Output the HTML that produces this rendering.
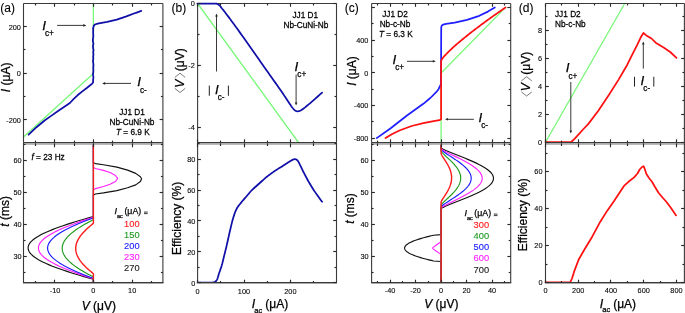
<!DOCTYPE html>
<html><head><meta charset="utf-8"><style>
html,body{margin:0;padding:0;background:#fff;width:685px;height:313px;overflow:hidden}
svg{display:block;will-change:transform}
text{font-family:"Liberation Sans", sans-serif;stroke-width:0.25px}
</style></head><body>
<svg width="685" height="313" viewBox="0 0 685 313" font-family='"Liberation Sans", sans-serif'>
<rect width="685" height="313" fill="#fff"/>
<polyline points="93.4,3.5 93.4,73.6 23.5,137" fill="none" stroke="#78f878" stroke-width="1.3" stroke-linejoin="round" stroke-linecap="round" />
<polyline points="141.3,10.9 135.9,12.8 126.4,16.4 116.8,19.6 107.2,21.9 97.6,23.6 95,24.5 93.8,25.6 93.3,28 93.02,28 93.23,30.2 93.11,32.4 93.27,34.6 93.29,36.8 92.9,39 92.86,41.2 93.44,43.4 93.03,45.6 93.01,47.8 93.55,50 93.18,52.2 93.44,54.4 93.18,56.6 93.3,58.8 92.96,61 93.29,63.2 93.46,65.4 93.22,67.6 93.37,69.8 93.32,72 92.89,74.2 93.38,76.4 93.26,78.6 93.06,80.8 93.2,82.2 92.2,83.6 90.2,85.2 87.1,87.7 82,91.6 77.5,95.3 73.5,99.2 69.9,103 64,106.9 58.4,110.7 51.5,115.6 44.9,120.3 36.5,127.2 28.6,134.7" fill="none" stroke="#1010a8" stroke-width="1.75" stroke-linejoin="round" stroke-linecap="round" />
<polyline points="93.4,144 93.4,162.7 95.4,163.6 103.4,164.7 116.9,167.1 127.6,170.1 135.7,173.4 140.4,176.8 141.6,178.8 140.4,181.5 135.7,184.9 127.6,187.8 116.9,190.6 103.4,192.9 95.4,194 93.4,194.9 93.4,216.58 88.55,217.89 83.95,219.19 79.5,220.5 75.18,221.8 71,223.11 66.96,224.41 63.07,225.72 59.33,227.02 55.77,228.33 52.38,229.63 49.18,230.94 46.18,232.24 43.38,233.55 40.8,234.85 38.44,236.16 36.3,237.46 34.4,238.77 32.75,240.07 31.34,241.38 30.18,242.68 29.27,243.99 28.62,245.29 28.23,246.6 28.1,247.9 28.23,249.2 28.62,250.51 29.27,251.81 30.18,253.12 31.34,254.42 32.75,255.73 34.4,257.03 36.3,258.34 38.44,259.64 40.8,260.95 43.38,262.25 46.18,263.56 49.18,264.86 52.38,266.17 55.77,267.47 59.33,268.78 63.07,270.08 66.96,271.39 71,272.69 75.18,274 79.5,275.3 83.95,276.61 88.55,277.91 93.4,279.22 93.4,283" fill="none" stroke="#111" stroke-width="1.15" stroke-linejoin="round" stroke-linecap="round" />
<polyline points="93.4,144 93.4,167.4 95.4,168.5 103.4,170.4 110.1,172.5 115.5,175.5 117.7,178.4 115.5,181.5 110.1,184.2 103.4,186.5 95.4,188.6 93.4,190 93.4,217.29 89.28,218.57 85.39,219.85 81.62,221.13 77.97,222.41 74.44,223.69 71.03,224.97 67.75,226.25 64.61,227.53 61.61,228.81 58.76,230.08 56.07,231.36 53.55,232.64 51.2,233.92 49.04,235.2 47.06,236.48 45.27,237.76 43.68,239.04 42.29,240.32 41.11,241.6 40.14,242.88 39.38,244.16 38.84,245.44 38.51,246.72 38.4,248 38.51,249.28 38.84,250.56 39.38,251.84 40.14,253.12 41.11,254.4 42.29,255.68 43.68,256.96 45.27,258.24 47.06,259.52 49.04,260.8 51.2,262.08 53.55,263.36 56.07,264.64 58.76,265.92 61.61,267.19 64.61,268.47 67.75,269.75 71.03,271.03 74.44,272.31 77.97,273.59 81.62,274.87 85.39,276.15 89.28,277.43 93.4,278.71 93.4,283" fill="none" stroke="#ff22ff" stroke-width="1.15" stroke-linejoin="round" stroke-linecap="round" />
<polyline points="93.4,144 93.4,218.01 89.76,219.26 86.41,220.51 83.22,221.77 80.14,223.02 77.19,224.28 74.34,225.53 71.62,226.78 69.02,228.04 66.55,229.29 64.2,230.55 62,231.8 59.93,233.05 58.01,234.31 56.24,235.56 54.63,236.82 53.18,238.07 51.88,239.32 50.76,240.58 49.8,241.83 49.01,243.08 48.39,244.34 47.95,245.59 47.69,246.85 47.6,248.1 47.69,249.35 47.95,250.61 48.39,251.86 49.01,253.12 49.8,254.37 50.76,255.62 51.88,256.88 53.18,258.13 54.63,259.38 56.24,260.64 58.01,261.89 59.93,263.15 62,264.4 64.2,265.65 66.55,266.91 69.02,268.16 71.62,269.42 74.34,270.67 77.19,271.92 80.14,273.18 83.22,274.43 86.41,275.69 89.76,276.94 93.4,278.19 93.4,283" fill="none" stroke="#1a1aff" stroke-width="1.15" stroke-linejoin="round" stroke-linecap="round" />
<polyline points="93.4,144 93.4,219.81 90.87,220.99 88.56,222.18 86.36,223.37 84.25,224.55 82.22,225.74 80.28,226.93 78.43,228.12 76.66,229.3 74.98,230.49 73.39,231.68 71.89,232.87 70.5,234.05 69.2,235.24 68.01,236.43 66.92,237.61 65.94,238.8 65.07,239.99 64.32,241.18 63.67,242.36 63.14,243.55 62.73,244.74 62.44,245.93 62.26,247.11 62.2,248.3 62.26,249.49 62.44,250.67 62.73,251.86 63.14,253.05 63.67,254.24 64.32,255.42 65.07,256.61 65.94,257.8 66.92,258.99 68.01,260.17 69.2,261.36 70.5,262.55 71.89,263.73 73.39,264.92 74.98,266.11 76.66,267.3 78.43,268.48 80.28,269.67 82.22,270.86 84.25,272.05 86.36,273.23 88.56,274.42 90.87,275.61 93.4,276.79 93.4,283" fill="none" stroke="#1f9a1f" stroke-width="1.15" stroke-linejoin="round" stroke-linecap="round" />
<polyline points="93.4,144 93.4,223.32 92.1,224.37 90.84,225.42 89.61,226.47 88.41,227.52 87.26,228.57 86.15,229.61 85.08,230.66 84.06,231.71 83.09,232.76 82.17,233.81 81.31,234.86 80.5,235.91 79.75,236.96 79.06,238.01 78.43,239.06 77.87,240.11 77.36,241.16 76.93,242.2 76.55,243.25 76.25,244.3 76.01,245.35 75.84,246.4 75.73,247.45 75.7,248.5 75.73,249.55 75.84,250.6 76.01,251.65 76.25,252.7 76.55,253.75 76.93,254.8 77.36,255.84 77.87,256.89 78.43,257.94 79.06,258.99 79.75,260.04 80.5,261.09 81.31,262.14 82.17,263.19 83.09,264.24 84.06,265.29 85.08,266.34 86.15,267.39 87.26,268.43 88.41,269.48 89.61,270.53 90.84,271.58 92.1,272.63 93.4,273.68 93.4,283" fill="none" stroke="#ff1a1a" stroke-width="1.4" stroke-linejoin="round" stroke-linecap="round" />
<line x1="23.5" y1="3.5" x2="162.9" y2="3.5" stroke="#3a3a3a" stroke-width="1.1"/>
<line x1="23.5" y1="3.5" x2="23.5" y2="142.6" stroke="#3a3a3a" stroke-width="1.1"/>
<line x1="162.9" y1="3.5" x2="162.9" y2="142.6" stroke="#3a3a3a" stroke-width="1.1"/>
<line x1="23.5" y1="142.6" x2="162.9" y2="142.6" stroke="#3a3a3a" stroke-width="1.1"/>
<line x1="23.5" y1="144" x2="162.9" y2="144" stroke="#a2a2a2" stroke-width="1.6"/>
<line x1="23.5" y1="142.6" x2="23.5" y2="283" stroke="#3a3a3a" stroke-width="1.1"/>
<line x1="162.9" y1="142.6" x2="162.9" y2="283" stroke="#3a3a3a" stroke-width="1.1"/>
<line x1="23" y1="282.5" x2="163.4" y2="282.5" stroke="#3a3a3a" stroke-width="1.0"/>
<line x1="23" y1="283.5" x2="163.4" y2="283.5" stroke="#a8a8a8" stroke-width="1.0"/>
<line x1="54.5" y1="3.5" x2="54.5" y2="6.8" stroke="#2a2a2a" stroke-width="1.15"/>
<line x1="54.5" y1="142.6" x2="54.5" y2="139.3" stroke="#2a2a2a" stroke-width="1.15"/>
<line x1="54.5" y1="143.4" x2="54.5" y2="147.3" stroke="#2a2a2a" stroke-width="1.15"/>
<line x1="54.5" y1="283" x2="54.5" y2="279.7" stroke="#2a2a2a" stroke-width="1.15"/>
<line x1="93.5" y1="3.5" x2="93.5" y2="6.8" stroke="#2a2a2a" stroke-width="1.15"/>
<line x1="93.5" y1="142.6" x2="93.5" y2="139.3" stroke="#2a2a2a" stroke-width="1.15"/>
<line x1="93.5" y1="143.4" x2="93.5" y2="147.3" stroke="#2a2a2a" stroke-width="1.15"/>
<line x1="93.5" y1="283" x2="93.5" y2="279.7" stroke="#2a2a2a" stroke-width="1.15"/>
<line x1="132.5" y1="3.5" x2="132.5" y2="6.8" stroke="#2a2a2a" stroke-width="1.15"/>
<line x1="132.5" y1="142.6" x2="132.5" y2="139.3" stroke="#2a2a2a" stroke-width="1.15"/>
<line x1="132.5" y1="143.4" x2="132.5" y2="147.3" stroke="#2a2a2a" stroke-width="1.15"/>
<line x1="132.5" y1="283" x2="132.5" y2="279.7" stroke="#2a2a2a" stroke-width="1.15"/>
<line x1="35.5" y1="3.5" x2="35.5" y2="5.5" stroke="#2a2a2a" stroke-width="1.15"/>
<line x1="35.5" y1="142.6" x2="35.5" y2="140.6" stroke="#2a2a2a" stroke-width="1.15"/>
<line x1="35.5" y1="143.4" x2="35.5" y2="146" stroke="#2a2a2a" stroke-width="1.15"/>
<line x1="35.5" y1="283" x2="35.5" y2="281" stroke="#2a2a2a" stroke-width="1.15"/>
<line x1="74.5" y1="3.5" x2="74.5" y2="5.5" stroke="#2a2a2a" stroke-width="1.15"/>
<line x1="74.5" y1="142.6" x2="74.5" y2="140.6" stroke="#2a2a2a" stroke-width="1.15"/>
<line x1="74.5" y1="143.4" x2="74.5" y2="146" stroke="#2a2a2a" stroke-width="1.15"/>
<line x1="74.5" y1="283" x2="74.5" y2="281" stroke="#2a2a2a" stroke-width="1.15"/>
<line x1="112.5" y1="3.5" x2="112.5" y2="5.5" stroke="#2a2a2a" stroke-width="1.15"/>
<line x1="112.5" y1="142.6" x2="112.5" y2="140.6" stroke="#2a2a2a" stroke-width="1.15"/>
<line x1="112.5" y1="143.4" x2="112.5" y2="146" stroke="#2a2a2a" stroke-width="1.15"/>
<line x1="112.5" y1="283" x2="112.5" y2="281" stroke="#2a2a2a" stroke-width="1.15"/>
<line x1="151.5" y1="3.5" x2="151.5" y2="5.5" stroke="#2a2a2a" stroke-width="1.15"/>
<line x1="151.5" y1="142.6" x2="151.5" y2="140.6" stroke="#2a2a2a" stroke-width="1.15"/>
<line x1="151.5" y1="143.4" x2="151.5" y2="146" stroke="#2a2a2a" stroke-width="1.15"/>
<line x1="151.5" y1="283" x2="151.5" y2="281" stroke="#2a2a2a" stroke-width="1.15"/>
<line x1="23.5" y1="119.5" x2="26.8" y2="119.5" stroke="#2a2a2a" stroke-width="1.15"/>
<line x1="162.9" y1="119.5" x2="159.6" y2="119.5" stroke="#2a2a2a" stroke-width="1.15"/>
<line x1="23.5" y1="73.5" x2="26.8" y2="73.5" stroke="#2a2a2a" stroke-width="1.15"/>
<line x1="162.9" y1="73.5" x2="159.6" y2="73.5" stroke="#2a2a2a" stroke-width="1.15"/>
<line x1="23.5" y1="26.5" x2="26.8" y2="26.5" stroke="#2a2a2a" stroke-width="1.15"/>
<line x1="162.9" y1="26.5" x2="159.6" y2="26.5" stroke="#2a2a2a" stroke-width="1.15"/>
<line x1="23.5" y1="96.5" x2="25.5" y2="96.5" stroke="#2a2a2a" stroke-width="1.15"/>
<line x1="162.9" y1="96.5" x2="160.9" y2="96.5" stroke="#2a2a2a" stroke-width="1.15"/>
<line x1="23.5" y1="49.5" x2="25.5" y2="49.5" stroke="#2a2a2a" stroke-width="1.15"/>
<line x1="162.9" y1="49.5" x2="160.9" y2="49.5" stroke="#2a2a2a" stroke-width="1.15"/>
<line x1="23.5" y1="256.5" x2="26.8" y2="256.5" stroke="#2a2a2a" stroke-width="1.15"/>
<line x1="162.9" y1="256.5" x2="159.6" y2="256.5" stroke="#2a2a2a" stroke-width="1.15"/>
<line x1="23.5" y1="224.5" x2="26.8" y2="224.5" stroke="#2a2a2a" stroke-width="1.15"/>
<line x1="162.9" y1="224.5" x2="159.6" y2="224.5" stroke="#2a2a2a" stroke-width="1.15"/>
<line x1="23.5" y1="192.5" x2="26.8" y2="192.5" stroke="#2a2a2a" stroke-width="1.15"/>
<line x1="162.9" y1="192.5" x2="159.6" y2="192.5" stroke="#2a2a2a" stroke-width="1.15"/>
<line x1="23.5" y1="160.5" x2="26.8" y2="160.5" stroke="#2a2a2a" stroke-width="1.15"/>
<line x1="162.9" y1="160.5" x2="159.6" y2="160.5" stroke="#2a2a2a" stroke-width="1.15"/>
<line x1="23.5" y1="272.5" x2="25.5" y2="272.5" stroke="#2a2a2a" stroke-width="1.15"/>
<line x1="162.9" y1="272.5" x2="160.9" y2="272.5" stroke="#2a2a2a" stroke-width="1.15"/>
<line x1="23.5" y1="240.5" x2="25.5" y2="240.5" stroke="#2a2a2a" stroke-width="1.15"/>
<line x1="162.9" y1="240.5" x2="160.9" y2="240.5" stroke="#2a2a2a" stroke-width="1.15"/>
<line x1="23.5" y1="208.5" x2="25.5" y2="208.5" stroke="#2a2a2a" stroke-width="1.15"/>
<line x1="162.9" y1="208.5" x2="160.9" y2="208.5" stroke="#2a2a2a" stroke-width="1.15"/>
<line x1="23.5" y1="176.5" x2="25.5" y2="176.5" stroke="#2a2a2a" stroke-width="1.15"/>
<line x1="162.9" y1="176.5" x2="160.9" y2="176.5" stroke="#2a2a2a" stroke-width="1.15"/>
<line x1="23.5" y1="144.5" x2="25.5" y2="144.5" stroke="#2a2a2a" stroke-width="1.15"/>
<line x1="162.9" y1="144.5" x2="160.9" y2="144.5" stroke="#2a2a2a" stroke-width="1.15"/>
<text x="0" y="0" font-size="8.0" text-anchor="end" fill="#000" stroke="#000" transform="translate(20.9 30.18) scale(0.92 1)" style="stroke-width:0.1px">200</text>
<text x="0" y="0" font-size="8.0" text-anchor="end" fill="#000" stroke="#000" transform="translate(20.9 76.38) scale(0.92 1)" style="stroke-width:0.1px">0</text>
<text x="0" y="0" font-size="8.0" text-anchor="end" fill="#000" stroke="#000" transform="translate(20.9 122.68) scale(0.92 1)" style="stroke-width:0.1px">-200</text>
<text x="0" y="0" font-size="8.0" text-anchor="end" fill="#000" stroke="#000" transform="translate(21.7 163.48) scale(0.92 1)" style="stroke-width:0.1px">60</text>
<text x="0" y="0" font-size="8.0" text-anchor="end" fill="#000" stroke="#000" transform="translate(21.7 195.48) scale(0.92 1)" style="stroke-width:0.1px">50</text>
<text x="0" y="0" font-size="8.0" text-anchor="end" fill="#000" stroke="#000" transform="translate(21.7 227.48) scale(0.92 1)" style="stroke-width:0.1px">40</text>
<text x="0" y="0" font-size="8.0" text-anchor="end" fill="#000" stroke="#000" transform="translate(21.7 259.48) scale(0.92 1)" style="stroke-width:0.1px">30</text>
<text x="0" y="0" font-size="8.0" text-anchor="middle" fill="#000" stroke="#000" transform="translate(55 292.68) scale(0.92 1)" style="stroke-width:0.1px">-10</text>
<text x="0" y="0" font-size="8.0" text-anchor="middle" fill="#000" stroke="#000" transform="translate(93.4 292.68) scale(0.92 1)" style="stroke-width:0.1px">0</text>
<text x="0" y="0" font-size="8.0" text-anchor="middle" fill="#000" stroke="#000" transform="translate(132.2 292.68) scale(0.92 1)" style="stroke-width:0.1px">10</text>
<text x="0.3" y="12" font-size="12" text-anchor="start" fill="#000" stroke="#000" style="stroke-width:0.1px">(a)</text>
<text x="42.3" y="29.6" font-size="13.4" text-anchor="start" fill="#000" stroke="#000" font-style="italic" >I</text>
<text x="45" y="35.8" font-size="8.2" text-anchor="start" fill="#000" stroke="#000" >c+</text>
<line x1="57.1" y1="25.4" x2="83.8" y2="25.4" stroke="#222" stroke-width="0.9"/>
<polygon points="86.3,25.4 83.3,26.7 83.3,24.1" fill="#222"/>
<text x="137.3" y="86.3" font-size="13.4" text-anchor="start" fill="#000" stroke="#000" font-style="italic" >I</text>
<text x="140" y="92.5" font-size="8.2" text-anchor="start" fill="#000" stroke="#000" >c-</text>
<line x1="131" y1="83.4" x2="104.7" y2="83.4" stroke="#222" stroke-width="0.9"/>
<polygon points="102.2,83.4 105.2,82.1 105.2,84.7" fill="#222"/>
<text x="0" y="0" font-size="8.7" text-anchor="middle" fill="#000" stroke="#000" transform="translate(132 114.8) scale(0.95 1)" >JJ1 D1</text>
<text x="0" y="0" font-size="8.7" text-anchor="middle" fill="#000" stroke="#000" transform="translate(132 124.8) scale(0.95 1)" >Nb-CuNi-Nb</text>
<text x="0" y="0" font-size="8.7" text-anchor="middle" fill="#000" stroke="#000" transform="translate(132.8 134.7) scale(0.95 1)" ><tspan font-style="italic">T</tspan> = 6.9 K</text>
<text x="0" y="0" font-size="8.7" text-anchor="start" fill="#000" stroke="#000" transform="translate(31.5 159.6) scale(0.95 1)" ><tspan font-style="italic">f</tspan> = 23 Hz</text>
<text x="114.4" y="213.8" font-size="9.0" text-anchor="start" fill="#000" stroke="#000" font-style="italic" >I</text>
<text x="116.9" y="217.6" font-size="5.6" text-anchor="start" fill="#000" stroke="#000" >ac</text>
<text x="124.4" y="214.4" font-size="8.8" text-anchor="start" fill="#000" stroke="#000" >(μA)</text>
<line x1="144" y1="212.1" x2="147.7" y2="212.1" stroke="#222" stroke-width="0.9"/>
<line x1="144" y1="213.6" x2="147.7" y2="213.6" stroke="#222" stroke-width="0.9"/>
<text x="139.6" y="226.6" font-size="9.3" text-anchor="end" fill="#ff1a1a" stroke="#ff1a1a" style="stroke-width:0.12px">100</text>
<text x="139.6" y="237.72" font-size="9.3" text-anchor="end" fill="#1f9a1f" stroke="#1f9a1f" style="stroke-width:0.12px">150</text>
<text x="139.6" y="248.84" font-size="9.3" text-anchor="end" fill="#1a1aff" stroke="#1a1aff" style="stroke-width:0.12px">200</text>
<text x="139.6" y="259.96" font-size="9.3" text-anchor="end" fill="#ff22ff" stroke="#ff22ff" style="stroke-width:0.12px">230</text>
<text x="139.6" y="271.08" font-size="9.3" text-anchor="end" fill="#222" stroke="#222" style="stroke-width:0.12px">270</text>
<text x="9.6" y="77.4" font-size="12" text-anchor="middle" fill="#000" stroke="#000" transform="rotate(-90 9.6 77.4)" ><tspan font-style="italic">I</tspan> (μA)</text>
<text x="9.5" y="211.3" font-size="12" text-anchor="middle" fill="#000" stroke="#000" transform="rotate(-90 9.5 211.3)" ><tspan font-style="italic">t</tspan> (ms)</text>
<text x="98.8" y="309.6" font-size="12" text-anchor="middle" fill="#000" stroke="#000" ><tspan font-style="italic">V</tspan> (μV)</text>
<polyline points="197.6,3.5 298.5,142.5" fill="none" stroke="#78f878" stroke-width="1.3" stroke-linejoin="round" stroke-linecap="round" />
<polyline points="197.6,282.5 198.52,282.52 200.86,282.57 204.04,282.62 207.44,282.64 210.46,282.61 212.5,282.5 212.97,282.44 213.35,282.39 213.69,282.33 213.99,282.25 214.29,282.15 214.6,282 214.97,281.8 215.34,281.57 215.7,281.3 216.05,280.98 216.38,280.62 216.7,280.2 217.16,279.36 217.56,278.34 217.92,277.18 218.27,275.95 218.62,274.7 219,273.5 219.44,272.23 219.9,270.95 220.36,269.66 220.82,268.33 221.27,266.98 221.7,265.6 222.15,264.01 222.57,262.37 222.98,260.69 223.39,258.99 223.79,257.29 224.2,255.6 224.61,253.93 225.03,252.28 225.43,250.63 225.85,248.95 226.27,247.22 226.7,245.4 227.24,243.04 227.8,240.55 228.36,237.98 228.94,235.37 229.52,232.8 230.1,230.3 230.65,227.98 231.19,225.65 231.74,223.34 232.3,221.09 232.89,218.93 233.5,216.9 234,215.36 234.49,213.89 235,212.47 235.54,211.11 236.13,209.79 236.8,208.5 237.53,207.3 238.33,206.14 239.17,205.02 240.05,203.93 240.93,202.86 241.8,201.8 242.62,200.8 243.45,199.82 244.28,198.87 245.12,197.91 245.96,196.96 246.8,196 247.64,195.01 248.48,194 249.33,192.99 250.17,191.99 251.03,191.02 251.9,190.1 252.73,189.28 253.58,188.5 254.43,187.74 255.29,187 256.15,186.25 257,185.5 257.84,184.75 258.67,183.99 259.5,183.24 260.34,182.49 261.17,181.74 262,181 262.8,180.28 263.59,179.56 264.38,178.85 265.18,178.14 266.02,177.42 266.9,176.7 267.99,175.84 269.13,174.97 270.32,174.1 271.53,173.22 272.76,172.35 274,171.5 275.31,170.62 276.66,169.75 278.03,168.88 279.39,168.03 280.73,167.2 282,166.4 283.06,165.73 284.09,165.07 285.1,164.42 286.08,163.8 287.05,163.19 288,162.6 288.84,162.08 289.68,161.55 290.5,161.03 291.3,160.55 292.03,160.13 292.7,159.8 293.06,159.64 293.38,159.5 293.69,159.39 293.99,159.29 294.29,159.23 294.6,159.2 294.92,159.2 295.24,159.22 295.57,159.26 295.89,159.34 296.2,159.45 296.5,159.6 296.83,159.83 297.15,160.11 297.45,160.45 297.74,160.81 298.02,161.2 298.3,161.6 298.62,162.1 298.91,162.63 299.19,163.2 299.48,163.8 299.77,164.43 300.1,165.1 300.6,166.11 301.14,167.21 301.7,168.37 302.29,169.57 302.89,170.79 303.5,172 304.17,173.32 304.85,174.66 305.55,176.01 306.27,177.38 307.01,178.78 307.8,180.2 308.74,181.86 309.72,183.55 310.73,185.27 311.79,187.01 312.88,188.76 314,190.5 315.45,192.63 317.19,195.09 318.97,197.55 320.54,199.7 321.67,201.22 322.1,201.8" fill="none" stroke="#1010a8" stroke-width="1.75" stroke-linejoin="round" stroke-linecap="round" />
<line x1="197.6" y1="3.5" x2="336.5" y2="3.5" stroke="#3a3a3a" stroke-width="1.1"/>
<line x1="197.6" y1="3.5" x2="197.6" y2="142.6" stroke="#3a3a3a" stroke-width="1.1"/>
<line x1="336.5" y1="3.5" x2="336.5" y2="142.6" stroke="#3a3a3a" stroke-width="1.1"/>
<line x1="197.6" y1="142.6" x2="336.5" y2="142.6" stroke="#3a3a3a" stroke-width="1.1"/>
<line x1="197.6" y1="144" x2="336.5" y2="144" stroke="#a2a2a2" stroke-width="1.6"/>
<line x1="197.6" y1="142.6" x2="197.6" y2="283" stroke="#3a3a3a" stroke-width="1.1"/>
<line x1="336.5" y1="142.6" x2="336.5" y2="283" stroke="#3a3a3a" stroke-width="1.1"/>
<line x1="197.1" y1="282.5" x2="337" y2="282.5" stroke="#3a3a3a" stroke-width="1.0"/>
<line x1="197.1" y1="283.5" x2="337" y2="283.5" stroke="#a8a8a8" stroke-width="1.0"/>
<polyline points="197.4,3.6 198.45,3.59 201.14,3.57 204.79,3.55 208.69,3.54 212.16,3.56 214.5,3.6 215.03,3.61 215.47,3.62 215.84,3.62 216.19,3.64 216.53,3.7 216.9,3.8 217.34,3.97 217.79,4.19 218.23,4.44 218.67,4.74 219.09,5.06 219.5,5.4 219.95,5.84 220.38,6.34 220.79,6.88 221.2,7.43 221.6,7.98 222,8.5 222.36,8.94 222.69,9.34 223.02,9.73 223.36,10.15 223.75,10.63 224.2,11.2 225.4,12.76 226.87,14.69 228.53,16.89 230.29,19.24 232.07,21.65 233.8,24 235.72,26.64 237.66,29.34 239.64,32.12 241.66,34.95 243.71,37.85 245.8,40.8 248.28,44.31 250.89,48 253.54,51.78 256.16,55.51 258.68,59.09 261,62.4 262.63,64.72 264.15,66.89 265.61,68.96 267.05,71 268.5,73.06 270,75.2 271.66,77.55 273.37,79.96 275.1,82.38 276.81,84.8 278.49,87.19 280.1,89.5 281.51,91.55 282.9,93.6 284.26,95.63 285.57,97.59 286.82,99.46 288,101.2 288.83,102.45 289.63,103.67 290.4,104.84 291.13,105.93 291.83,106.92 292.5,107.8 292.91,108.3 293.3,108.75 293.68,109.17 294.05,109.55 294.42,109.89 294.8,110.2 295.1,110.42 295.39,110.63 295.69,110.81 295.98,110.97 296.29,111.1 296.6,111.2 296.92,111.27 297.25,111.3 297.58,111.31 297.92,111.29 298.26,111.25 298.6,111.2 298.98,111.12 299.34,111.03 299.72,110.91 300.11,110.75 300.53,110.55 301,110.3 302.18,109.55 303.56,108.55 305.1,107.35 306.72,106.02 308.38,104.65 310,103.3 312.21,101.42 314.82,99.13 317.47,96.77 319.8,94.68 321.47,93.18 322.1,92.6" fill="none" stroke="#1010a8" stroke-width="1.75" stroke-linejoin="round" stroke-linecap="round" />
<line x1="197.5" y1="3.5" x2="197.5" y2="6.8" stroke="#2a2a2a" stroke-width="1.15"/>
<line x1="197.5" y1="142.6" x2="197.5" y2="139.3" stroke="#2a2a2a" stroke-width="1.15"/>
<line x1="197.5" y1="143.4" x2="197.5" y2="147.3" stroke="#2a2a2a" stroke-width="1.15"/>
<line x1="197.5" y1="283" x2="197.5" y2="279.7" stroke="#2a2a2a" stroke-width="1.15"/>
<line x1="244.5" y1="3.5" x2="244.5" y2="6.8" stroke="#2a2a2a" stroke-width="1.15"/>
<line x1="244.5" y1="142.6" x2="244.5" y2="139.3" stroke="#2a2a2a" stroke-width="1.15"/>
<line x1="244.5" y1="143.4" x2="244.5" y2="147.3" stroke="#2a2a2a" stroke-width="1.15"/>
<line x1="244.5" y1="283" x2="244.5" y2="279.7" stroke="#2a2a2a" stroke-width="1.15"/>
<line x1="290.5" y1="3.5" x2="290.5" y2="6.8" stroke="#2a2a2a" stroke-width="1.15"/>
<line x1="290.5" y1="142.6" x2="290.5" y2="139.3" stroke="#2a2a2a" stroke-width="1.15"/>
<line x1="290.5" y1="143.4" x2="290.5" y2="147.3" stroke="#2a2a2a" stroke-width="1.15"/>
<line x1="290.5" y1="283" x2="290.5" y2="279.7" stroke="#2a2a2a" stroke-width="1.15"/>
<line x1="220.5" y1="3.5" x2="220.5" y2="5.5" stroke="#2a2a2a" stroke-width="1.15"/>
<line x1="220.5" y1="142.6" x2="220.5" y2="140.6" stroke="#2a2a2a" stroke-width="1.15"/>
<line x1="220.5" y1="143.4" x2="220.5" y2="146" stroke="#2a2a2a" stroke-width="1.15"/>
<line x1="220.5" y1="283" x2="220.5" y2="281" stroke="#2a2a2a" stroke-width="1.15"/>
<line x1="267.5" y1="3.5" x2="267.5" y2="5.5" stroke="#2a2a2a" stroke-width="1.15"/>
<line x1="267.5" y1="142.6" x2="267.5" y2="140.6" stroke="#2a2a2a" stroke-width="1.15"/>
<line x1="267.5" y1="143.4" x2="267.5" y2="146" stroke="#2a2a2a" stroke-width="1.15"/>
<line x1="267.5" y1="283" x2="267.5" y2="281" stroke="#2a2a2a" stroke-width="1.15"/>
<line x1="313.5" y1="3.5" x2="313.5" y2="5.5" stroke="#2a2a2a" stroke-width="1.15"/>
<line x1="313.5" y1="142.6" x2="313.5" y2="140.6" stroke="#2a2a2a" stroke-width="1.15"/>
<line x1="313.5" y1="143.4" x2="313.5" y2="146" stroke="#2a2a2a" stroke-width="1.15"/>
<line x1="313.5" y1="283" x2="313.5" y2="281" stroke="#2a2a2a" stroke-width="1.15"/>
<line x1="197.6" y1="3.5" x2="200.9" y2="3.5" stroke="#2a2a2a" stroke-width="1.15"/>
<line x1="336.5" y1="3.5" x2="333.2" y2="3.5" stroke="#2a2a2a" stroke-width="1.15"/>
<line x1="197.6" y1="65.5" x2="200.9" y2="65.5" stroke="#2a2a2a" stroke-width="1.15"/>
<line x1="336.5" y1="65.5" x2="333.2" y2="65.5" stroke="#2a2a2a" stroke-width="1.15"/>
<line x1="197.6" y1="127.5" x2="200.9" y2="127.5" stroke="#2a2a2a" stroke-width="1.15"/>
<line x1="336.5" y1="127.5" x2="333.2" y2="127.5" stroke="#2a2a2a" stroke-width="1.15"/>
<line x1="197.6" y1="34.5" x2="199.6" y2="34.5" stroke="#2a2a2a" stroke-width="1.15"/>
<line x1="336.5" y1="34.5" x2="334.5" y2="34.5" stroke="#2a2a2a" stroke-width="1.15"/>
<line x1="197.6" y1="96.5" x2="199.6" y2="96.5" stroke="#2a2a2a" stroke-width="1.15"/>
<line x1="336.5" y1="96.5" x2="334.5" y2="96.5" stroke="#2a2a2a" stroke-width="1.15"/>
<line x1="197.6" y1="282.5" x2="200.9" y2="282.5" stroke="#2a2a2a" stroke-width="1.15"/>
<line x1="336.5" y1="282.5" x2="333.2" y2="282.5" stroke="#2a2a2a" stroke-width="1.15"/>
<line x1="197.6" y1="251.5" x2="200.9" y2="251.5" stroke="#2a2a2a" stroke-width="1.15"/>
<line x1="336.5" y1="251.5" x2="333.2" y2="251.5" stroke="#2a2a2a" stroke-width="1.15"/>
<line x1="197.6" y1="220.5" x2="200.9" y2="220.5" stroke="#2a2a2a" stroke-width="1.15"/>
<line x1="336.5" y1="220.5" x2="333.2" y2="220.5" stroke="#2a2a2a" stroke-width="1.15"/>
<line x1="197.6" y1="190.5" x2="200.9" y2="190.5" stroke="#2a2a2a" stroke-width="1.15"/>
<line x1="336.5" y1="190.5" x2="333.2" y2="190.5" stroke="#2a2a2a" stroke-width="1.15"/>
<line x1="197.6" y1="159.5" x2="200.9" y2="159.5" stroke="#2a2a2a" stroke-width="1.15"/>
<line x1="336.5" y1="159.5" x2="333.2" y2="159.5" stroke="#2a2a2a" stroke-width="1.15"/>
<line x1="197.6" y1="267.5" x2="199.6" y2="267.5" stroke="#2a2a2a" stroke-width="1.15"/>
<line x1="336.5" y1="267.5" x2="334.5" y2="267.5" stroke="#2a2a2a" stroke-width="1.15"/>
<line x1="197.6" y1="236.5" x2="199.6" y2="236.5" stroke="#2a2a2a" stroke-width="1.15"/>
<line x1="336.5" y1="236.5" x2="334.5" y2="236.5" stroke="#2a2a2a" stroke-width="1.15"/>
<line x1="197.6" y1="205.5" x2="199.6" y2="205.5" stroke="#2a2a2a" stroke-width="1.15"/>
<line x1="336.5" y1="205.5" x2="334.5" y2="205.5" stroke="#2a2a2a" stroke-width="1.15"/>
<line x1="197.6" y1="174.5" x2="199.6" y2="174.5" stroke="#2a2a2a" stroke-width="1.15"/>
<line x1="336.5" y1="174.5" x2="334.5" y2="174.5" stroke="#2a2a2a" stroke-width="1.15"/>
<line x1="197.6" y1="143.5" x2="199.6" y2="143.5" stroke="#2a2a2a" stroke-width="1.15"/>
<line x1="336.5" y1="143.5" x2="334.5" y2="143.5" stroke="#2a2a2a" stroke-width="1.15"/>
<text x="0" y="0" font-size="8.0" text-anchor="end" fill="#000" stroke="#000" transform="translate(194.8 6.33) scale(0.92 1)" style="stroke-width:0.1px">0</text>
<text x="0" y="0" font-size="8.0" text-anchor="end" fill="#000" stroke="#000" transform="translate(194.8 68.23) scale(0.92 1)" style="stroke-width:0.1px">-2</text>
<text x="0" y="0" font-size="8.0" text-anchor="end" fill="#000" stroke="#000" transform="translate(194.8 130.13) scale(0.92 1)" style="stroke-width:0.1px">-4</text>
<text x="0" y="0" font-size="8.0" text-anchor="end" fill="#000" stroke="#000" transform="translate(195.4 161.98) scale(0.92 1)" style="stroke-width:0.1px">80</text>
<text x="0" y="0" font-size="8.0" text-anchor="end" fill="#000" stroke="#000" transform="translate(195.4 192.88) scale(0.92 1)" style="stroke-width:0.1px">60</text>
<text x="0" y="0" font-size="8.0" text-anchor="end" fill="#000" stroke="#000" transform="translate(195.4 223.78) scale(0.92 1)" style="stroke-width:0.1px">40</text>
<text x="0" y="0" font-size="8.0" text-anchor="end" fill="#000" stroke="#000" transform="translate(195.4 254.68) scale(0.92 1)" style="stroke-width:0.1px">20</text>
<text x="0" y="0" font-size="8.0" text-anchor="end" fill="#000" stroke="#000" transform="translate(195.4 285.58) scale(0.92 1)" style="stroke-width:0.1px">0</text>
<text x="0" y="0" font-size="8.0" text-anchor="middle" fill="#000" stroke="#000" transform="translate(197.6 294.18) scale(0.92 1)" style="stroke-width:0.1px">0</text>
<text x="0" y="0" font-size="8.0" text-anchor="middle" fill="#000" stroke="#000" transform="translate(244 294.18) scale(0.92 1)" style="stroke-width:0.1px">100</text>
<text x="0" y="0" font-size="8.0" text-anchor="middle" fill="#000" stroke="#000" transform="translate(290.4 294.18) scale(0.92 1)" style="stroke-width:0.1px">200</text>
<text x="171.6" y="12" font-size="12" text-anchor="start" fill="#000" stroke="#000" style="stroke-width:0.1px">(b)</text>
<text x="0" y="0" font-size="8.7" text-anchor="middle" fill="#000" stroke="#000" transform="translate(305.3 18.2) scale(0.95 1)" >JJ1 D1</text>
<text x="0" y="0" font-size="8.7" text-anchor="middle" fill="#000" stroke="#000" transform="translate(305.9 27.7) scale(0.95 1)" >Nb-CuNi-Nb</text>
<line x1="216.5" y1="71.5" x2="216.5" y2="15.9" stroke="#222" stroke-width="0.9"/>
<polygon points="216.5,13.4 217.8,16.4 215.2,16.4" fill="#222"/>
<line x1="209.3" y1="85.6" x2="209.3" y2="95.8" stroke="#222" stroke-width="1.0"/>
<line x1="228.4" y1="85.6" x2="228.4" y2="95.8" stroke="#222" stroke-width="1.0"/>
<text x="215" y="93.8" font-size="13.4" text-anchor="start" fill="#000" stroke="#000" font-style="italic" >I</text>
<text x="217.7" y="100" font-size="8.2" text-anchor="start" fill="#000" stroke="#000" >c-</text>
<text x="294.6" y="71.1" font-size="13.4" text-anchor="start" fill="#000" stroke="#000" font-style="italic" >I</text>
<text x="297.3" y="77.3" font-size="8.2" text-anchor="start" fill="#000" stroke="#000" >c+</text>
<line x1="296.1" y1="74.6" x2="296.1" y2="103.1" stroke="#222" stroke-width="0.9"/>
<polygon points="296.1,105.6 294.8,102.6 297.4,102.6" fill="#222"/>
<g transform="translate(183.6 92.8) rotate(-90)">
<polyline points="4.4,-8.8 0.3,-3.6 4.4,1.6" fill="none" stroke="#555" stroke-width="0.8"/>
<text x="5.0" y="0" font-size="12" font-style="italic" stroke="#000">V</text>
<polyline points="15.4,-8.8 19.6,-3.6 15.4,1.6" fill="none" stroke="#555" stroke-width="0.8"/>
<text x="21.6" y="0" font-size="12" stroke="#000">(μV)</text>
</g>
<text x="180.6" y="218.3" font-size="12" text-anchor="middle" fill="#000" stroke="#000" transform="rotate(-90 180.6 218.3)" >Efficiency (%)</text>
<text x="251.7" y="308.3" font-size="12.5" text-anchor="start" fill="#000" stroke="#000" font-style="italic" >I</text>
<text x="254.2" y="313.2" font-size="7.6" text-anchor="start" fill="#000" stroke="#000" >ac</text>
<text x="265.3" y="308.3" font-size="12" text-anchor="start" fill="#000" stroke="#000" >(μA)</text>
<polyline points="505.6,7.4 441.1,73 441.1,142.5" fill="none" stroke="#78f878" stroke-width="1.3" stroke-linejoin="round" stroke-linecap="round" />
<polyline points="494.8,7.4 487.9,11.6 479.3,15.8 467,19.9 454.7,22.6 446,23.9 443.2,24.6 441.8,25.4 441.3,27 441.2,30 441.1,60 440.9,84.5 440.1,86 438.5,89.2 436.2,92.2 430.3,98 423.3,103.8 407,115.5 390.7,128.3 376.7,138.1" fill="none" stroke="#1f1fff" stroke-width="1.75" stroke-linejoin="round" stroke-linecap="round" />
<polyline points="505.62,7.4 504.43,8.22 503.24,9.03 502.06,9.85 500.88,10.67 499.71,11.49 498.54,12.3 497.37,13.12 496.21,13.94 495.05,14.76 493.9,15.57 492.75,16.39 491.6,17.21 490.46,18.03 489.32,18.84 488.19,19.66 487.06,20.48 485.94,21.3 484.82,22.11 483.71,22.93 482.6,23.75 481.49,24.57 480.39,25.38 479.3,26.2 478.21,27.02 477.13,27.84 476.05,28.65 474.98,29.47 473.91,30.29 472.85,31.11 471.79,31.92 470.74,32.74 469.7,33.56 468.66,34.38 467.63,35.19 466.61,36.01 465.59,36.83 464.58,37.65 463.58,38.46 462.58,39.28 461.6,40.1 460.62,40.92 459.65,41.73 458.68,42.55 457.73,43.37 456.78,44.19 455.85,45 454.92,45.82 454,46.64 453.1,47.46 452.2,48.27 451.32,49.09 450.45,49.91 449.6,50.73 448.75,51.54 447.93,52.36 447.12,53.18 446.32,54 445.55,54.81 444.8,55.63 444.07,56.45 443.37,57.27 442.71,58.08 442.09,58.9 441.53,59.72 441.1,61.5 441.1,119.3 439.5,120.2 435,120.9 423.3,123.2 411.7,126 400,130.2 391.8,134.2 385.5,138.1" fill="none" stroke="#ff1010" stroke-width="1.75" stroke-linejoin="round" stroke-linecap="round" />
<polyline points="441.1,144 441.1,147.98 443.23,149.24 445.96,150.51 448.92,151.77 452.02,153.03 455.18,154.3 458.38,155.56 461.55,156.82 464.69,158.09 467.76,159.35 470.74,160.61 473.6,161.88 476.33,163.14 478.9,164.4 481.31,165.67 483.53,166.93 485.56,168.19 487.38,169.46 488.97,170.72 490.34,171.98 491.47,173.25 492.35,174.51 492.99,175.77 493.37,177.04 493.5,178.3 493.37,179.56 492.99,180.83 492.35,182.09 491.47,183.35 490.34,184.62 488.97,185.88 487.38,187.14 485.56,188.41 483.53,189.67 481.31,190.93 478.9,192.2 476.33,193.46 473.6,194.72 470.74,195.99 467.76,197.25 464.69,198.51 461.55,199.78 458.38,201.04 455.18,202.3 452.02,203.57 448.92,204.83 445.96,206.09 443.23,207.36 441.1,208.62 441.1,234.66 433.6,235.22 431.2,235.78 428.89,236.34 426.68,236.9 424.57,237.46 422.56,238.02 420.65,238.58 418.84,239.14 417.14,239.7 415.54,240.26 414.05,240.82 412.66,241.38 411.38,241.94 410.21,242.5 409.15,243.06 408.2,243.62 407.36,244.18 406.63,244.74 406.01,245.3 405.5,245.86 405.11,246.42 404.83,246.98 404.66,247.54 404.6,248.1 404.66,248.66 404.83,249.22 405.11,249.78 405.5,250.34 406.01,250.9 406.63,251.46 407.36,252.02 408.2,252.58 409.15,253.14 410.21,253.7 411.38,254.26 412.66,254.82 414.05,255.38 415.54,255.94 417.14,256.5 418.84,257.06 420.65,257.62 422.56,258.18 424.57,258.74 426.68,259.3 428.89,259.86 431.2,260.42 433.6,260.98 441.1,261.54 441.1,283" fill="none" stroke="#111" stroke-width="1.15" stroke-linejoin="round" stroke-linecap="round" />
<polyline points="441.1,144 441.1,148.74 442.79,149.97 444.95,151.2 447.29,152.43 449.73,153.66 452.23,154.9 454.74,156.13 457.24,157.36 459.7,158.59 462.1,159.82 464.43,161.05 466.67,162.29 468.81,163.52 470.82,164.75 472.7,165.98 474.43,167.21 476.01,168.45 477.43,169.68 478.67,170.91 479.74,172.14 480.62,173.37 481.31,174.6 481.8,175.84 482.1,177.07 482.2,178.3 482.1,179.53 481.8,180.76 481.31,182 480.62,183.23 479.74,184.46 478.67,185.69 477.43,186.92 476.01,188.15 474.43,189.39 472.7,190.62 470.82,191.85 468.81,193.08 466.67,194.31 464.43,195.55 462.1,196.78 459.7,198.01 457.24,199.24 454.74,200.47 452.23,201.7 449.73,202.94 447.29,204.17 444.95,205.4 442.79,206.63 441.1,207.86 441.1,242 439.5,242.8 436,245.3 433.2,247.4 432.6,248.1 433.2,248.9 436,251 439.5,253.4 441.1,254.2 441.1,283" fill="none" stroke="#ff22ff" stroke-width="1.15" stroke-linejoin="round" stroke-linecap="round" />
<polyline points="441.1,144 441.1,149.71 442.36,150.89 443.96,152.08 445.69,153.27 447.49,154.45 449.33,155.64 451.17,156.83 453.01,158.02 454.81,159.2 456.57,160.39 458.28,161.58 459.91,162.77 461.47,163.95 462.94,165.14 464.3,166.33 465.56,167.51 466.71,168.7 467.74,169.89 468.64,171.08 469.42,172.26 470.05,173.45 470.55,174.64 470.91,175.83 471.13,177.01 471.2,178.2 471.13,179.39 470.91,180.57 470.55,181.76 470.05,182.95 469.42,184.14 468.64,185.32 467.74,186.51 466.71,187.7 465.56,188.89 464.3,190.07 462.94,191.26 461.47,192.45 459.91,193.63 458.28,194.82 456.57,196.01 454.81,197.2 453.01,198.38 451.17,199.57 449.33,200.76 447.49,201.95 445.69,203.13 443.96,204.32 442.36,205.51 441.1,206.69 441.1,283" fill="none" stroke="#1a1aff" stroke-width="1.15" stroke-linejoin="round" stroke-linecap="round" />
<polyline points="441.1,144 441.1,151.24 441.94,152.36 442.99,153.48 444.14,154.6 445.33,155.72 446.53,156.84 447.74,157.95 448.94,159.07 450.12,160.19 451.26,161.31 452.37,162.43 453.43,163.55 454.44,164.67 455.38,165.79 456.27,166.91 457.08,168.03 457.82,169.15 458.48,170.27 459.06,171.38 459.56,172.5 459.97,173.62 460.29,174.74 460.52,175.86 460.65,176.98 460.7,178.1 460.65,179.22 460.52,180.34 460.29,181.46 459.97,182.58 459.56,183.7 459.06,184.82 458.48,185.93 457.82,187.05 457.08,188.17 456.27,189.29 455.38,190.41 454.44,191.53 453.43,192.65 452.37,193.77 451.26,194.89 450.12,196.01 448.94,197.13 447.74,198.25 446.53,199.36 445.33,200.48 444.14,201.6 442.99,202.72 441.94,203.84 441.1,204.96 441.1,283" fill="none" stroke="#1f9a1f" stroke-width="1.15" stroke-linejoin="round" stroke-linecap="round" />
<polyline points="441.1,144 441.1,153.77 441.56,154.77 442.14,155.77 442.77,156.78 443.42,157.78 444.07,158.78 444.73,159.78 445.37,160.78 446,161.78 446.62,162.78 447.21,163.78 447.77,164.78 448.31,165.79 448.81,166.79 449.27,167.79 449.7,168.79 450.09,169.79 450.44,170.79 450.74,171.79 451,172.79 451.22,173.8 451.38,174.8 451.5,175.8 451.58,176.8 451.6,177.8 451.58,178.8 451.5,179.8 451.38,180.8 451.22,181.8 451,182.81 450.74,183.81 450.44,184.81 450.09,185.81 449.7,186.81 449.27,187.81 448.81,188.81 448.31,189.81 447.77,190.82 447.21,191.82 446.62,192.82 446,193.82 445.37,194.82 444.73,195.82 444.07,196.82 443.42,197.82 442.77,198.82 442.14,199.83 441.56,200.83 441.1,201.83 441.1,283" fill="none" stroke="#ff1a1a" stroke-width="1.4" stroke-linejoin="round" stroke-linecap="round" />
<line x1="371.6" y1="3.5" x2="510.7" y2="3.5" stroke="#3a3a3a" stroke-width="1.1"/>
<line x1="371.6" y1="3.5" x2="371.6" y2="142.6" stroke="#3a3a3a" stroke-width="1.1"/>
<line x1="510.7" y1="3.5" x2="510.7" y2="142.6" stroke="#3a3a3a" stroke-width="1.1"/>
<line x1="371.6" y1="142.6" x2="510.7" y2="142.6" stroke="#3a3a3a" stroke-width="1.1"/>
<line x1="371.6" y1="144" x2="510.7" y2="144" stroke="#a2a2a2" stroke-width="1.6"/>
<line x1="371.6" y1="142.6" x2="371.6" y2="283" stroke="#3a3a3a" stroke-width="1.1"/>
<line x1="510.7" y1="142.6" x2="510.7" y2="283" stroke="#3a3a3a" stroke-width="1.1"/>
<line x1="371.1" y1="282.5" x2="511.2" y2="282.5" stroke="#3a3a3a" stroke-width="1.0"/>
<line x1="371.1" y1="283.5" x2="511.2" y2="283.5" stroke="#a8a8a8" stroke-width="1.0"/>
<line x1="390.5" y1="3.5" x2="390.5" y2="6.8" stroke="#2a2a2a" stroke-width="1.15"/>
<line x1="390.5" y1="142.6" x2="390.5" y2="139.3" stroke="#2a2a2a" stroke-width="1.15"/>
<line x1="390.5" y1="143.4" x2="390.5" y2="147.3" stroke="#2a2a2a" stroke-width="1.15"/>
<line x1="390.5" y1="283" x2="390.5" y2="279.7" stroke="#2a2a2a" stroke-width="1.15"/>
<line x1="415.5" y1="3.5" x2="415.5" y2="6.8" stroke="#2a2a2a" stroke-width="1.15"/>
<line x1="415.5" y1="142.6" x2="415.5" y2="139.3" stroke="#2a2a2a" stroke-width="1.15"/>
<line x1="415.5" y1="143.4" x2="415.5" y2="147.3" stroke="#2a2a2a" stroke-width="1.15"/>
<line x1="415.5" y1="283" x2="415.5" y2="279.7" stroke="#2a2a2a" stroke-width="1.15"/>
<line x1="441.5" y1="3.5" x2="441.5" y2="6.8" stroke="#2a2a2a" stroke-width="1.15"/>
<line x1="441.5" y1="142.6" x2="441.5" y2="139.3" stroke="#2a2a2a" stroke-width="1.15"/>
<line x1="441.5" y1="143.4" x2="441.5" y2="147.3" stroke="#2a2a2a" stroke-width="1.15"/>
<line x1="441.5" y1="283" x2="441.5" y2="279.7" stroke="#2a2a2a" stroke-width="1.15"/>
<line x1="466.5" y1="3.5" x2="466.5" y2="6.8" stroke="#2a2a2a" stroke-width="1.15"/>
<line x1="466.5" y1="142.6" x2="466.5" y2="139.3" stroke="#2a2a2a" stroke-width="1.15"/>
<line x1="466.5" y1="143.4" x2="466.5" y2="147.3" stroke="#2a2a2a" stroke-width="1.15"/>
<line x1="466.5" y1="283" x2="466.5" y2="279.7" stroke="#2a2a2a" stroke-width="1.15"/>
<line x1="492.5" y1="3.5" x2="492.5" y2="6.8" stroke="#2a2a2a" stroke-width="1.15"/>
<line x1="492.5" y1="142.6" x2="492.5" y2="139.3" stroke="#2a2a2a" stroke-width="1.15"/>
<line x1="492.5" y1="143.4" x2="492.5" y2="147.3" stroke="#2a2a2a" stroke-width="1.15"/>
<line x1="492.5" y1="283" x2="492.5" y2="279.7" stroke="#2a2a2a" stroke-width="1.15"/>
<line x1="377.5" y1="3.5" x2="377.5" y2="5.5" stroke="#2a2a2a" stroke-width="1.15"/>
<line x1="377.5" y1="142.6" x2="377.5" y2="140.6" stroke="#2a2a2a" stroke-width="1.15"/>
<line x1="377.5" y1="143.4" x2="377.5" y2="146" stroke="#2a2a2a" stroke-width="1.15"/>
<line x1="377.5" y1="283" x2="377.5" y2="281" stroke="#2a2a2a" stroke-width="1.15"/>
<line x1="402.5" y1="3.5" x2="402.5" y2="5.5" stroke="#2a2a2a" stroke-width="1.15"/>
<line x1="402.5" y1="142.6" x2="402.5" y2="140.6" stroke="#2a2a2a" stroke-width="1.15"/>
<line x1="402.5" y1="143.4" x2="402.5" y2="146" stroke="#2a2a2a" stroke-width="1.15"/>
<line x1="402.5" y1="283" x2="402.5" y2="281" stroke="#2a2a2a" stroke-width="1.15"/>
<line x1="428.5" y1="3.5" x2="428.5" y2="5.5" stroke="#2a2a2a" stroke-width="1.15"/>
<line x1="428.5" y1="142.6" x2="428.5" y2="140.6" stroke="#2a2a2a" stroke-width="1.15"/>
<line x1="428.5" y1="143.4" x2="428.5" y2="146" stroke="#2a2a2a" stroke-width="1.15"/>
<line x1="428.5" y1="283" x2="428.5" y2="281" stroke="#2a2a2a" stroke-width="1.15"/>
<line x1="453.5" y1="3.5" x2="453.5" y2="5.5" stroke="#2a2a2a" stroke-width="1.15"/>
<line x1="453.5" y1="142.6" x2="453.5" y2="140.6" stroke="#2a2a2a" stroke-width="1.15"/>
<line x1="453.5" y1="143.4" x2="453.5" y2="146" stroke="#2a2a2a" stroke-width="1.15"/>
<line x1="453.5" y1="283" x2="453.5" y2="281" stroke="#2a2a2a" stroke-width="1.15"/>
<line x1="479.5" y1="3.5" x2="479.5" y2="5.5" stroke="#2a2a2a" stroke-width="1.15"/>
<line x1="479.5" y1="142.6" x2="479.5" y2="140.6" stroke="#2a2a2a" stroke-width="1.15"/>
<line x1="479.5" y1="143.4" x2="479.5" y2="146" stroke="#2a2a2a" stroke-width="1.15"/>
<line x1="479.5" y1="283" x2="479.5" y2="281" stroke="#2a2a2a" stroke-width="1.15"/>
<line x1="504.5" y1="3.5" x2="504.5" y2="5.5" stroke="#2a2a2a" stroke-width="1.15"/>
<line x1="504.5" y1="142.6" x2="504.5" y2="140.6" stroke="#2a2a2a" stroke-width="1.15"/>
<line x1="504.5" y1="143.4" x2="504.5" y2="146" stroke="#2a2a2a" stroke-width="1.15"/>
<line x1="504.5" y1="283" x2="504.5" y2="281" stroke="#2a2a2a" stroke-width="1.15"/>
<line x1="371.6" y1="138.5" x2="374.9" y2="138.5" stroke="#2a2a2a" stroke-width="1.15"/>
<line x1="510.7" y1="138.5" x2="507.4" y2="138.5" stroke="#2a2a2a" stroke-width="1.15"/>
<line x1="371.6" y1="105.5" x2="374.9" y2="105.5" stroke="#2a2a2a" stroke-width="1.15"/>
<line x1="510.7" y1="105.5" x2="507.4" y2="105.5" stroke="#2a2a2a" stroke-width="1.15"/>
<line x1="371.6" y1="72.5" x2="374.9" y2="72.5" stroke="#2a2a2a" stroke-width="1.15"/>
<line x1="510.7" y1="72.5" x2="507.4" y2="72.5" stroke="#2a2a2a" stroke-width="1.15"/>
<line x1="371.6" y1="40.5" x2="374.9" y2="40.5" stroke="#2a2a2a" stroke-width="1.15"/>
<line x1="510.7" y1="40.5" x2="507.4" y2="40.5" stroke="#2a2a2a" stroke-width="1.15"/>
<line x1="371.6" y1="7.5" x2="374.9" y2="7.5" stroke="#2a2a2a" stroke-width="1.15"/>
<line x1="510.7" y1="7.5" x2="507.4" y2="7.5" stroke="#2a2a2a" stroke-width="1.15"/>
<line x1="371.6" y1="121.5" x2="373.6" y2="121.5" stroke="#2a2a2a" stroke-width="1.15"/>
<line x1="510.7" y1="121.5" x2="508.7" y2="121.5" stroke="#2a2a2a" stroke-width="1.15"/>
<line x1="371.6" y1="89.5" x2="373.6" y2="89.5" stroke="#2a2a2a" stroke-width="1.15"/>
<line x1="510.7" y1="89.5" x2="508.7" y2="89.5" stroke="#2a2a2a" stroke-width="1.15"/>
<line x1="371.6" y1="56.5" x2="373.6" y2="56.5" stroke="#2a2a2a" stroke-width="1.15"/>
<line x1="510.7" y1="56.5" x2="508.7" y2="56.5" stroke="#2a2a2a" stroke-width="1.15"/>
<line x1="371.6" y1="23.5" x2="373.6" y2="23.5" stroke="#2a2a2a" stroke-width="1.15"/>
<line x1="510.7" y1="23.5" x2="508.7" y2="23.5" stroke="#2a2a2a" stroke-width="1.15"/>
<line x1="371.6" y1="256.5" x2="374.9" y2="256.5" stroke="#2a2a2a" stroke-width="1.15"/>
<line x1="510.7" y1="256.5" x2="507.4" y2="256.5" stroke="#2a2a2a" stroke-width="1.15"/>
<line x1="371.6" y1="224.5" x2="374.9" y2="224.5" stroke="#2a2a2a" stroke-width="1.15"/>
<line x1="510.7" y1="224.5" x2="507.4" y2="224.5" stroke="#2a2a2a" stroke-width="1.15"/>
<line x1="371.6" y1="192.5" x2="374.9" y2="192.5" stroke="#2a2a2a" stroke-width="1.15"/>
<line x1="510.7" y1="192.5" x2="507.4" y2="192.5" stroke="#2a2a2a" stroke-width="1.15"/>
<line x1="371.6" y1="160.5" x2="374.9" y2="160.5" stroke="#2a2a2a" stroke-width="1.15"/>
<line x1="510.7" y1="160.5" x2="507.4" y2="160.5" stroke="#2a2a2a" stroke-width="1.15"/>
<line x1="371.6" y1="272.5" x2="373.6" y2="272.5" stroke="#2a2a2a" stroke-width="1.15"/>
<line x1="510.7" y1="272.5" x2="508.7" y2="272.5" stroke="#2a2a2a" stroke-width="1.15"/>
<line x1="371.6" y1="240.5" x2="373.6" y2="240.5" stroke="#2a2a2a" stroke-width="1.15"/>
<line x1="510.7" y1="240.5" x2="508.7" y2="240.5" stroke="#2a2a2a" stroke-width="1.15"/>
<line x1="371.6" y1="208.5" x2="373.6" y2="208.5" stroke="#2a2a2a" stroke-width="1.15"/>
<line x1="510.7" y1="208.5" x2="508.7" y2="208.5" stroke="#2a2a2a" stroke-width="1.15"/>
<line x1="371.6" y1="176.5" x2="373.6" y2="176.5" stroke="#2a2a2a" stroke-width="1.15"/>
<line x1="510.7" y1="176.5" x2="508.7" y2="176.5" stroke="#2a2a2a" stroke-width="1.15"/>
<line x1="371.6" y1="144.5" x2="373.6" y2="144.5" stroke="#2a2a2a" stroke-width="1.15"/>
<line x1="510.7" y1="144.5" x2="508.7" y2="144.5" stroke="#2a2a2a" stroke-width="1.15"/>
<text x="0" y="0" font-size="8.0" text-anchor="end" fill="#000" stroke="#000" transform="translate(368.4 42.98) scale(0.92 1)" style="stroke-width:0.1px">400</text>
<text x="0" y="0" font-size="8.0" text-anchor="end" fill="#000" stroke="#000" transform="translate(368.4 75.68) scale(0.92 1)" style="stroke-width:0.1px">0</text>
<text x="0" y="0" font-size="8.0" text-anchor="end" fill="#000" stroke="#000" transform="translate(368.4 108.38) scale(0.92 1)" style="stroke-width:0.1px">-400</text>
<text x="0" y="0" font-size="8.0" text-anchor="end" fill="#000" stroke="#000" transform="translate(368.4 141.08) scale(0.92 1)" style="stroke-width:0.1px">-800</text>
<text x="0" y="0" font-size="8.0" text-anchor="end" fill="#000" stroke="#000" transform="translate(368.6 163.38) scale(0.92 1)" style="stroke-width:0.1px">60</text>
<text x="0" y="0" font-size="8.0" text-anchor="end" fill="#000" stroke="#000" transform="translate(368.6 195.38) scale(0.92 1)" style="stroke-width:0.1px">50</text>
<text x="0" y="0" font-size="8.0" text-anchor="end" fill="#000" stroke="#000" transform="translate(368.6 227.38) scale(0.92 1)" style="stroke-width:0.1px">40</text>
<text x="0" y="0" font-size="8.0" text-anchor="end" fill="#000" stroke="#000" transform="translate(368.6 259.38) scale(0.92 1)" style="stroke-width:0.1px">30</text>
<text x="0" y="0" font-size="8.0" text-anchor="middle" fill="#000" stroke="#000" transform="translate(390.1 292.68) scale(0.92 1)" style="stroke-width:0.1px">-40</text>
<text x="0" y="0" font-size="8.0" text-anchor="middle" fill="#000" stroke="#000" transform="translate(415.6 292.68) scale(0.92 1)" style="stroke-width:0.1px">-20</text>
<text x="0" y="0" font-size="8.0" text-anchor="middle" fill="#000" stroke="#000" transform="translate(441.1 292.68) scale(0.92 1)" style="stroke-width:0.1px">0</text>
<text x="0" y="0" font-size="8.0" text-anchor="middle" fill="#000" stroke="#000" transform="translate(466.6 292.68) scale(0.92 1)" style="stroke-width:0.1px">20</text>
<text x="0" y="0" font-size="8.0" text-anchor="middle" fill="#000" stroke="#000" transform="translate(492.1 292.68) scale(0.92 1)" style="stroke-width:0.1px">40</text>
<text x="344.8" y="12.4" font-size="12" text-anchor="start" fill="#000" stroke="#000" style="stroke-width:0.1px">(c)</text>
<text x="0" y="0" font-size="8.7" text-anchor="middle" fill="#000" stroke="#000" transform="translate(395 17) scale(0.95 1)" >JJ1 D2</text>
<text x="0" y="0" font-size="8.7" text-anchor="middle" fill="#000" stroke="#000" transform="translate(395 26.7) scale(0.95 1)" >Nb-c-Nb</text>
<text x="0" y="0" font-size="8.7" text-anchor="middle" fill="#000" stroke="#000" transform="translate(395.8 36.5) scale(0.95 1)" ><tspan font-style="italic">T</tspan> = 6.3 K</text>
<text x="392.5" y="63.8" font-size="13.4" text-anchor="start" fill="#000" stroke="#000" font-style="italic" >I</text>
<text x="395.2" y="70" font-size="8.2" text-anchor="start" fill="#000" stroke="#000" >c+</text>
<line x1="407" y1="61.3" x2="433.3" y2="61.3" stroke="#222" stroke-width="0.9"/>
<polygon points="435.8,61.3 432.8,62.6 432.8,60" fill="#222"/>
<text x="478.5" y="121.6" font-size="13.4" text-anchor="start" fill="#000" stroke="#000" font-style="italic" >I</text>
<text x="481.2" y="127.8" font-size="8.2" text-anchor="start" fill="#000" stroke="#000" >c-</text>
<line x1="473.9" y1="119.3" x2="447.5" y2="119.3" stroke="#222" stroke-width="0.9"/>
<polygon points="445,119.3 448,118 448,120.6" fill="#222"/>
<text x="464.4" y="215.8" font-size="9.0" text-anchor="start" fill="#000" stroke="#000" font-style="italic" >I</text>
<text x="466.9" y="219.6" font-size="5.6" text-anchor="start" fill="#000" stroke="#000" >ac</text>
<text x="474.3" y="216.4" font-size="8.8" text-anchor="start" fill="#000" stroke="#000" >(μA)</text>
<line x1="493.8" y1="214.1" x2="497.5" y2="214.1" stroke="#222" stroke-width="0.9"/>
<line x1="493.8" y1="215.6" x2="497.5" y2="215.6" stroke="#222" stroke-width="0.9"/>
<text x="489.1" y="227.9" font-size="9.3" text-anchor="end" fill="#ff1a1a" stroke="#ff1a1a" style="stroke-width:0.12px">300</text>
<text x="489.1" y="239.05" font-size="9.3" text-anchor="end" fill="#1f9a1f" stroke="#1f9a1f" style="stroke-width:0.12px">400</text>
<text x="489.1" y="250.2" font-size="9.3" text-anchor="end" fill="#1a1aff" stroke="#1a1aff" style="stroke-width:0.12px">500</text>
<text x="489.1" y="261.35" font-size="9.3" text-anchor="end" fill="#ff22ff" stroke="#ff22ff" style="stroke-width:0.12px">600</text>
<text x="489.1" y="272.5" font-size="9.3" text-anchor="end" fill="#222" stroke="#222" style="stroke-width:0.12px">700</text>
<text x="355.6" y="71" font-size="12" text-anchor="middle" fill="#000" stroke="#000" transform="rotate(-90 355.6 71)" ><tspan font-style="italic">I</tspan> (μA)</text>
<text x="354.3" y="208.5" font-size="12" text-anchor="middle" fill="#000" stroke="#000" transform="rotate(-90 354.3 208.5)" ><tspan font-style="italic">t</tspan> (ms)</text>
<text x="441.4" y="308.4" font-size="12" text-anchor="middle" fill="#000" stroke="#000" ><tspan font-style="italic">V</tspan> (μV)</text>
<polyline points="545.5,142.3 624.7,3.5" fill="none" stroke="#78f878" stroke-width="1.3" stroke-linejoin="round" stroke-linecap="round" />
<polyline points="545.5,142 571.2,142 574.5,138.8 578.4,134.6 583,129.5 588.4,123.9 598.5,110.5 608.5,95.4 618.6,79.6 624.5,69.5 627,65.2 632,55.2 637.1,45.1 641.1,36.7 643.4,33 646.3,35.4 651.5,38.5 655.7,42.7 664,47.8 670.2,52 676.5,57.8" fill="none" stroke="#ff1010" stroke-width="1.75" stroke-linejoin="round" stroke-linecap="round" />
<polyline points="545.5,282.3 570.2,282.3 572,278.5 574.5,270.6 578.6,259.7 584,250.2 592.2,236.7 600.3,221.7 607.1,210.9 613.9,201.2 619,193.5 624,185.9 628.5,181.8 634.1,177.4 637.5,173.5 639.7,169.5 642,167 643.5,166.2 644.6,168.5 646.4,174 649,178 652,181.8 655,187 658.7,193 662.5,197.5 666.5,202 671,208 676.1,215.4" fill="none" stroke="#ff1010" stroke-width="1.75" stroke-linejoin="round" stroke-linecap="round" />
<line x1="545.5" y1="3.5" x2="684.4" y2="3.5" stroke="#3a3a3a" stroke-width="1.1"/>
<line x1="545.5" y1="3.5" x2="545.5" y2="142.6" stroke="#3a3a3a" stroke-width="1.1"/>
<line x1="684.4" y1="3.5" x2="684.4" y2="142.6" stroke="#3a3a3a" stroke-width="1.1"/>
<line x1="545.5" y1="142.6" x2="684.4" y2="142.6" stroke="#3a3a3a" stroke-width="1.1"/>
<line x1="545.5" y1="144" x2="684.4" y2="144" stroke="#a2a2a2" stroke-width="1.6"/>
<line x1="545.5" y1="142.6" x2="545.5" y2="283" stroke="#3a3a3a" stroke-width="1.1"/>
<line x1="684.4" y1="142.6" x2="684.4" y2="283" stroke="#3a3a3a" stroke-width="1.1"/>
<line x1="545" y1="282.5" x2="684.9" y2="282.5" stroke="#3a3a3a" stroke-width="1.0"/>
<line x1="545" y1="283.5" x2="684.9" y2="283.5" stroke="#a8a8a8" stroke-width="1.0"/>
<line x1="545.5" y1="3.5" x2="545.5" y2="6.8" stroke="#2a2a2a" stroke-width="1.15"/>
<line x1="545.5" y1="142.6" x2="545.5" y2="139.3" stroke="#2a2a2a" stroke-width="1.15"/>
<line x1="545.5" y1="143.4" x2="545.5" y2="147.3" stroke="#2a2a2a" stroke-width="1.15"/>
<line x1="545.5" y1="283" x2="545.5" y2="279.7" stroke="#2a2a2a" stroke-width="1.15"/>
<line x1="578.5" y1="3.5" x2="578.5" y2="6.8" stroke="#2a2a2a" stroke-width="1.15"/>
<line x1="578.5" y1="142.6" x2="578.5" y2="139.3" stroke="#2a2a2a" stroke-width="1.15"/>
<line x1="578.5" y1="143.4" x2="578.5" y2="147.3" stroke="#2a2a2a" stroke-width="1.15"/>
<line x1="578.5" y1="283" x2="578.5" y2="279.7" stroke="#2a2a2a" stroke-width="1.15"/>
<line x1="610.5" y1="3.5" x2="610.5" y2="6.8" stroke="#2a2a2a" stroke-width="1.15"/>
<line x1="610.5" y1="142.6" x2="610.5" y2="139.3" stroke="#2a2a2a" stroke-width="1.15"/>
<line x1="610.5" y1="143.4" x2="610.5" y2="147.3" stroke="#2a2a2a" stroke-width="1.15"/>
<line x1="610.5" y1="283" x2="610.5" y2="279.7" stroke="#2a2a2a" stroke-width="1.15"/>
<line x1="643.5" y1="3.5" x2="643.5" y2="6.8" stroke="#2a2a2a" stroke-width="1.15"/>
<line x1="643.5" y1="142.6" x2="643.5" y2="139.3" stroke="#2a2a2a" stroke-width="1.15"/>
<line x1="643.5" y1="143.4" x2="643.5" y2="147.3" stroke="#2a2a2a" stroke-width="1.15"/>
<line x1="643.5" y1="283" x2="643.5" y2="279.7" stroke="#2a2a2a" stroke-width="1.15"/>
<line x1="676.5" y1="3.5" x2="676.5" y2="6.8" stroke="#2a2a2a" stroke-width="1.15"/>
<line x1="676.5" y1="142.6" x2="676.5" y2="139.3" stroke="#2a2a2a" stroke-width="1.15"/>
<line x1="676.5" y1="143.4" x2="676.5" y2="147.3" stroke="#2a2a2a" stroke-width="1.15"/>
<line x1="676.5" y1="283" x2="676.5" y2="279.7" stroke="#2a2a2a" stroke-width="1.15"/>
<line x1="561.5" y1="3.5" x2="561.5" y2="5.5" stroke="#2a2a2a" stroke-width="1.15"/>
<line x1="561.5" y1="142.6" x2="561.5" y2="140.6" stroke="#2a2a2a" stroke-width="1.15"/>
<line x1="561.5" y1="143.4" x2="561.5" y2="146" stroke="#2a2a2a" stroke-width="1.15"/>
<line x1="561.5" y1="283" x2="561.5" y2="281" stroke="#2a2a2a" stroke-width="1.15"/>
<line x1="594.5" y1="3.5" x2="594.5" y2="5.5" stroke="#2a2a2a" stroke-width="1.15"/>
<line x1="594.5" y1="142.6" x2="594.5" y2="140.6" stroke="#2a2a2a" stroke-width="1.15"/>
<line x1="594.5" y1="143.4" x2="594.5" y2="146" stroke="#2a2a2a" stroke-width="1.15"/>
<line x1="594.5" y1="283" x2="594.5" y2="281" stroke="#2a2a2a" stroke-width="1.15"/>
<line x1="627.5" y1="3.5" x2="627.5" y2="5.5" stroke="#2a2a2a" stroke-width="1.15"/>
<line x1="627.5" y1="142.6" x2="627.5" y2="140.6" stroke="#2a2a2a" stroke-width="1.15"/>
<line x1="627.5" y1="143.4" x2="627.5" y2="146" stroke="#2a2a2a" stroke-width="1.15"/>
<line x1="627.5" y1="283" x2="627.5" y2="281" stroke="#2a2a2a" stroke-width="1.15"/>
<line x1="660.5" y1="3.5" x2="660.5" y2="5.5" stroke="#2a2a2a" stroke-width="1.15"/>
<line x1="660.5" y1="142.6" x2="660.5" y2="140.6" stroke="#2a2a2a" stroke-width="1.15"/>
<line x1="660.5" y1="143.4" x2="660.5" y2="146" stroke="#2a2a2a" stroke-width="1.15"/>
<line x1="660.5" y1="283" x2="660.5" y2="281" stroke="#2a2a2a" stroke-width="1.15"/>
<line x1="545.5" y1="142.5" x2="548.8" y2="142.5" stroke="#2a2a2a" stroke-width="1.15"/>
<line x1="684.4" y1="142.5" x2="681.1" y2="142.5" stroke="#2a2a2a" stroke-width="1.15"/>
<line x1="545.5" y1="114.5" x2="548.8" y2="114.5" stroke="#2a2a2a" stroke-width="1.15"/>
<line x1="684.4" y1="114.5" x2="681.1" y2="114.5" stroke="#2a2a2a" stroke-width="1.15"/>
<line x1="545.5" y1="86.5" x2="548.8" y2="86.5" stroke="#2a2a2a" stroke-width="1.15"/>
<line x1="684.4" y1="86.5" x2="681.1" y2="86.5" stroke="#2a2a2a" stroke-width="1.15"/>
<line x1="545.5" y1="58.5" x2="548.8" y2="58.5" stroke="#2a2a2a" stroke-width="1.15"/>
<line x1="684.4" y1="58.5" x2="681.1" y2="58.5" stroke="#2a2a2a" stroke-width="1.15"/>
<line x1="545.5" y1="30.5" x2="548.8" y2="30.5" stroke="#2a2a2a" stroke-width="1.15"/>
<line x1="684.4" y1="30.5" x2="681.1" y2="30.5" stroke="#2a2a2a" stroke-width="1.15"/>
<line x1="545.5" y1="128.5" x2="547.5" y2="128.5" stroke="#2a2a2a" stroke-width="1.15"/>
<line x1="684.4" y1="128.5" x2="682.4" y2="128.5" stroke="#2a2a2a" stroke-width="1.15"/>
<line x1="545.5" y1="100.5" x2="547.5" y2="100.5" stroke="#2a2a2a" stroke-width="1.15"/>
<line x1="684.4" y1="100.5" x2="682.4" y2="100.5" stroke="#2a2a2a" stroke-width="1.15"/>
<line x1="545.5" y1="72.5" x2="547.5" y2="72.5" stroke="#2a2a2a" stroke-width="1.15"/>
<line x1="684.4" y1="72.5" x2="682.4" y2="72.5" stroke="#2a2a2a" stroke-width="1.15"/>
<line x1="545.5" y1="44.5" x2="547.5" y2="44.5" stroke="#2a2a2a" stroke-width="1.15"/>
<line x1="684.4" y1="44.5" x2="682.4" y2="44.5" stroke="#2a2a2a" stroke-width="1.15"/>
<line x1="545.5" y1="16.5" x2="547.5" y2="16.5" stroke="#2a2a2a" stroke-width="1.15"/>
<line x1="684.4" y1="16.5" x2="682.4" y2="16.5" stroke="#2a2a2a" stroke-width="1.15"/>
<line x1="545.5" y1="282.5" x2="548.8" y2="282.5" stroke="#2a2a2a" stroke-width="1.15"/>
<line x1="684.4" y1="282.5" x2="681.1" y2="282.5" stroke="#2a2a2a" stroke-width="1.15"/>
<line x1="545.5" y1="245.5" x2="548.8" y2="245.5" stroke="#2a2a2a" stroke-width="1.15"/>
<line x1="684.4" y1="245.5" x2="681.1" y2="245.5" stroke="#2a2a2a" stroke-width="1.15"/>
<line x1="545.5" y1="208.5" x2="548.8" y2="208.5" stroke="#2a2a2a" stroke-width="1.15"/>
<line x1="684.4" y1="208.5" x2="681.1" y2="208.5" stroke="#2a2a2a" stroke-width="1.15"/>
<line x1="545.5" y1="171.5" x2="548.8" y2="171.5" stroke="#2a2a2a" stroke-width="1.15"/>
<line x1="684.4" y1="171.5" x2="681.1" y2="171.5" stroke="#2a2a2a" stroke-width="1.15"/>
<line x1="545.5" y1="264.5" x2="547.5" y2="264.5" stroke="#2a2a2a" stroke-width="1.15"/>
<line x1="684.4" y1="264.5" x2="682.4" y2="264.5" stroke="#2a2a2a" stroke-width="1.15"/>
<line x1="545.5" y1="227.5" x2="547.5" y2="227.5" stroke="#2a2a2a" stroke-width="1.15"/>
<line x1="684.4" y1="227.5" x2="682.4" y2="227.5" stroke="#2a2a2a" stroke-width="1.15"/>
<line x1="545.5" y1="190.5" x2="547.5" y2="190.5" stroke="#2a2a2a" stroke-width="1.15"/>
<line x1="684.4" y1="190.5" x2="682.4" y2="190.5" stroke="#2a2a2a" stroke-width="1.15"/>
<line x1="545.5" y1="153.5" x2="547.5" y2="153.5" stroke="#2a2a2a" stroke-width="1.15"/>
<line x1="684.4" y1="153.5" x2="682.4" y2="153.5" stroke="#2a2a2a" stroke-width="1.15"/>
<text x="0" y="0" font-size="8.0" text-anchor="end" fill="#000" stroke="#000" transform="translate(542 32.94) scale(0.92 1)" style="stroke-width:0.1px">8</text>
<text x="0" y="0" font-size="8.0" text-anchor="end" fill="#000" stroke="#000" transform="translate(542 61) scale(0.92 1)" style="stroke-width:0.1px">6</text>
<text x="0" y="0" font-size="8.0" text-anchor="end" fill="#000" stroke="#000" transform="translate(542 89.06) scale(0.92 1)" style="stroke-width:0.1px">4</text>
<text x="0" y="0" font-size="8.0" text-anchor="end" fill="#000" stroke="#000" transform="translate(542 117.12) scale(0.92 1)" style="stroke-width:0.1px">2</text>
<text x="0" y="0" font-size="8.0" text-anchor="end" fill="#000" stroke="#000" transform="translate(542 145.18) scale(0.92 1)" style="stroke-width:0.1px">0</text>
<text x="0" y="0" font-size="8.0" text-anchor="end" fill="#000" stroke="#000" transform="translate(542.5 174.48) scale(0.92 1)" style="stroke-width:0.1px">60</text>
<text x="0" y="0" font-size="8.0" text-anchor="end" fill="#000" stroke="#000" transform="translate(542.5 211.48) scale(0.92 1)" style="stroke-width:0.1px">40</text>
<text x="0" y="0" font-size="8.0" text-anchor="end" fill="#000" stroke="#000" transform="translate(542.5 248.48) scale(0.92 1)" style="stroke-width:0.1px">20</text>
<text x="0" y="0" font-size="8.0" text-anchor="end" fill="#000" stroke="#000" transform="translate(542.5 285.48) scale(0.92 1)" style="stroke-width:0.1px">0</text>
<text x="0" y="0" font-size="8.0" text-anchor="middle" fill="#000" stroke="#000" transform="translate(545.5 292.68) scale(0.92 1)" style="stroke-width:0.1px">0</text>
<text x="0" y="0" font-size="8.0" text-anchor="middle" fill="#000" stroke="#000" transform="translate(578.24 292.68) scale(0.92 1)" style="stroke-width:0.1px">200</text>
<text x="0" y="0" font-size="8.0" text-anchor="middle" fill="#000" stroke="#000" transform="translate(610.98 292.68) scale(0.92 1)" style="stroke-width:0.1px">400</text>
<text x="0" y="0" font-size="8.0" text-anchor="middle" fill="#000" stroke="#000" transform="translate(643.72 292.68) scale(0.92 1)" style="stroke-width:0.1px">600</text>
<text x="0" y="0" font-size="8.0" text-anchor="middle" fill="#000" stroke="#000" transform="translate(676.46 292.68) scale(0.92 1)" style="stroke-width:0.1px">800</text>
<text x="518.8" y="12.3" font-size="12" text-anchor="start" fill="#000" stroke="#000" style="stroke-width:0.1px">(d)</text>
<text x="0" y="0" font-size="8.7" text-anchor="start" fill="#000" stroke="#000" transform="translate(555 16.9) scale(0.95 1)" >JJ1 D2</text>
<text x="0" y="0" font-size="8.7" text-anchor="start" fill="#000" stroke="#000" transform="translate(555 26.8) scale(0.95 1)" >Nb-c-Nb</text>
<text x="565.7" y="72.3" font-size="13.4" text-anchor="start" fill="#000" stroke="#000" font-style="italic" >I</text>
<text x="568.4" y="78.5" font-size="8.2" text-anchor="start" fill="#000" stroke="#000" >c+</text>
<line x1="570.8" y1="82" x2="570.8" y2="130.9" stroke="#222" stroke-width="0.9"/>
<polygon points="570.8,133.4 569.5,130.4 572.1,130.4" fill="#222"/>
<line x1="643.3" y1="68.6" x2="643.3" y2="44.1" stroke="#222" stroke-width="0.9"/>
<polygon points="643.3,41.6 644.6,44.6 642,44.6" fill="#222"/>
<line x1="634.5" y1="76.8" x2="634.5" y2="86.6" stroke="#222" stroke-width="1.0"/>
<line x1="653.8" y1="76.8" x2="653.8" y2="86.6" stroke="#222" stroke-width="1.0"/>
<text x="640.6" y="84.9" font-size="13.4" text-anchor="start" fill="#000" stroke="#000" font-style="italic" >I</text>
<text x="643.3" y="91.1" font-size="8.2" text-anchor="start" fill="#000" stroke="#000" >c-</text>
<g transform="translate(530.2 96.3) rotate(-90)">
<polyline points="4.4,-8.8 0.3,-3.6 4.4,1.6" fill="none" stroke="#555" stroke-width="0.8"/>
<text x="5.0" y="0" font-size="12" font-style="italic" stroke="#000">V</text>
<polyline points="15.4,-8.8 19.6,-3.6 15.4,1.6" fill="none" stroke="#555" stroke-width="0.8"/>
<text x="21.6" y="0" font-size="12" stroke="#000">(μV)</text>
</g>
<text x="527.5" y="214.7" font-size="12" text-anchor="middle" fill="#000" stroke="#000" transform="rotate(-90 527.5 214.7)" >Efficiency (%)</text>
<text x="599.8" y="308.3" font-size="12.5" text-anchor="start" fill="#000" stroke="#000" font-style="italic" >I</text>
<text x="602.3" y="312.2" font-size="7.6" text-anchor="start" fill="#000" stroke="#000" >ac</text>
<text x="613.2" y="308.3" font-size="12" text-anchor="start" fill="#000" stroke="#000" >(μA)</text>
</svg>
</body></html>
